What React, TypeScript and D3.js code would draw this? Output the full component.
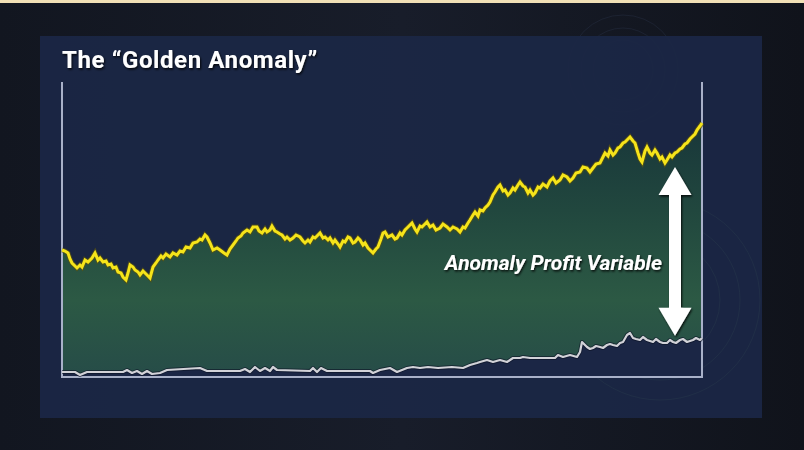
import React from "react";
import * as d3 from "d3";

// Yellow series ("Golden Anomaly" equity) — t index, value
const yellowT = [0,3,6,8,10,13,15,18,20,23,26,30,33,36,38,41,44,46,49,51,54,56,59,61,64,66,68,71,73,76,78,81,83,86,88,91,94,96,99,101,104,108,111,115,118,121,124,128,131,135,138,140,143,145,148,151,155,158,162,165,168,171,174,176,179,181,185,188,191,195,197,200,203,205,208,210,213,215,218,220,223,225,228,231,234,238,241,243,246,248,251,253,256,258,261,263,266,268,271,273,276,278,281,283,286,288,291,293,296,298,301,303,306,308,311,314,316,319,321,323,326,330,333,335,338,340,343,345,348,350,353,355,358,360,363,365,368,371,374,378,381,385,388,391,395,398,401,403,406,408,411,413,416,418,421,423,426,428,431,433,436,438,441,443,446,448,451,453,456,458,461,463,466,468,471,473,476,478,481,485,488,491,494,498,501,505,508,511,514,518,521,525,528,531,534,538,541,543,546,548,551,553,556,558,561,563,566,568,571,573,576,578,580,583,585,588,590,593,595,598,600,603,605,608,610,613,615,618,620,623,625,628,630,633,635,638,640];
const yellowV = [127,126,124,118,114,111,109,112,110,117,115,119,124,117,119,115,116,112,113,109,110,105,104,100,97,104,112,110,107,105,102,106,104,101,99,110,114,117,121,119,123,120,124,122,126,125,130,129,134,135,138,137,142,140,134,127,129,127,124,122,128,132,136,139,141,144,147,145,150,150,146,144,148,145,147,151,146,145,143,142,138,140,137,139,142,140,136,134,137,135,140,139,142,144,139,140,137,139,134,137,133,130,136,135,140,139,134,135,139,137,132,134,129,127,124,128,130,138,144,145,140,142,138,139,144,142,147,149,152,154,148,145,151,150,153,155,150,152,147,149,153,150,147,150,148,145,150,149,154,157,162,165,161,167,166,169,172,175,182,185,190,192,186,187,182,184,189,187,192,195,191,190,184,187,182,184,190,189,193,190,196,199,194,197,202,200,196,199,204,205,210,209,205,209,213,214,220,224,221,227,222,224,229,230,234,235,238,240,236,234,224,218,215,226,230,224,222,227,224,218,220,214,217,222,220,224,225,228,229,233,234,238,240,243,247,251,254];

// Gray series (benchmark)
const grayT = [0,13,18,25,61,65,70,75,80,85,90,98,105,138,145,178,183,188,193,198,203,208,211,215,248,251,255,259,265,308,311,318,328,335,345,351,358,366,376,390,401,408,415,418,425,431,438,445,451,458,461,468,475,485,493,496,501,508,515,518,520,525,528,531,534,538,541,545,548,551,555,558,561,565,568,571,574,578,581,585,588,591,594,598,601,605,608,611,614,618,621,625,628,631,634,638,640];
const grayV = [5,5,2,5,5,7,4,6,3,6,3,4,7,9,6,6,8,5,10,6,9,6,10,7,6,9,5,9,6,6,4,7,9,5,9,10,9,10,9,10,9,12,14,15,17,15,17,15,19,19,20,19,19,19,19,22,20,22,20,25,35,30,28,29,31,30,29,32,33,32,31,34,35,42,44,39,38,37,40,37,36,35,38,35,34,34,37,35,34,37,38,35,36,37,39,37,39];

const TITLE = "The \u201CGolden Anomaly\u201D";
const ANNOTATION = "Anomaly Profit Variable";
const ARROW_T = 613;

const W = 804;
const H = 450;
const plot = { left: 62, right: 702, top: 82, bottom: 377 };

export default function App() {
  const x = d3.scaleLinear().domain([0, 640]).range([plot.left, plot.right]);
  const y = d3.scaleLinear().domain([0, 295]).range([plot.bottom, plot.top]);

  const yellow = yellowT.map((t, i) => [t, yellowV[i]] as [number, number]);
  const gray = grayT.map((t, i) => [t, grayV[i]] as [number, number]);

  const line = d3.line<[number, number]>().x(d => x(d[0])).y(d => y(d[1]));
  const area = d3
    .area<[number, number]>()
    .x(d => x(d[0]))
    .y0(plot.bottom)
    .y1(d => y(d[1]));

  // arrow from scales
  const ax = x(ARROW_T);
  const yTopVal = d3.scaleLinear().domain(yellowT).range(yellowV)(ARROW_T);
  const yBotVal = d3.scaleLinear().domain(grayT).range(grayV)(ARROW_T);
  const aTop = y(yTopVal) + 14;
  const aBot = y(yBotVal) - 7;
  const hw = 16.5, hh = 28, sw = 6;
  const arrowPath = [
    [ax, aTop], [ax + hw, aTop + hh], [ax + sw, aTop + hh], [ax + sw, aBot - hh],
    [ax + hw, aBot - hh], [ax, aBot], [ax - hw, aBot - hh], [ax - sw, aBot - hh],
    [ax - sw, aTop + hh], [ax - hw, aTop + hh],
  ].map(p => p.join(",")).join(" ");

  return (
    <svg width={W} height={H} style={{ position: "fixed", left: 0, top: 0 }}>
      <defs>
        <linearGradient id="bg" x1="0" y1="0" x2="1" y2="0">
          <stop offset="0" stopColor="#121620" />
          <stop offset="0.5" stopColor="#181d2a" />
          <stop offset="1" stopColor="#10131b" />
        </linearGradient>
        <linearGradient id="fillG" gradientUnits="userSpaceOnUse" x1="0" y1="120" x2="0" y2="377">
          <stop offset="0" stopColor="#18363a" />
          <stop offset="0.35" stopColor="#21473e" />
          <stop offset="0.7" stopColor="#2c5944" />
          <stop offset="1" stopColor="#264c48" />
        </linearGradient>
        <filter id="ts" x="-10%" y="-30%" width="120%" height="160%">
          <feDropShadow dx="1" dy="1.5" stdDeviation="1" floodColor="#000" floodOpacity="0.85" />
        </filter>
      </defs>

      <rect x={0} y={0} width={W} height={H} fill="url(#bg)" />
      <rect x={0} y={0} width={W} height={3} fill="#f1e0b6" />

      {/* faint decorative rings */}
      <g fill="none" stroke="#3a4868" strokeOpacity={0.22}>
        <circle cx={623} cy={70} r={30} />
        <circle cx={623} cy={70} r={42} />
        <circle cx={623} cy={70} r={55} />
      </g>

      {/* panel */}
      <rect x={40} y={36} width={722} height={382} fill="#1b2645" fillOpacity={0.96} />

      <g fill="none" stroke="#3c5a5a" strokeOpacity={0.18}>
        <circle cx={660} cy={300} r={60} />
        <circle cx={660} cy={300} r={80} />
        <circle cx={660} cy={300} r={100} />
      </g>

      {/* fill between lines */}
      <path d={area(yellow) || ""} fill="url(#fillG)" />
      <path d={area(gray) || ""} fill="#1b2645" />

      {/* frame */}
      <path
        d={`M${plot.left},${plot.top}V${plot.bottom}H${plot.right}V${plot.top}`}
        fill="none"
        stroke="#a9b1c9"
        strokeWidth={2}
      />

      {/* gray line */}
      <path d={line(gray) || ""} fill="none" stroke="#0e1426" strokeOpacity={0.6} strokeWidth={4} strokeLinejoin="round" />
      <path d={line(gray) || ""} fill="none" stroke="#d2d2d8" strokeWidth={2.2} strokeLinejoin="round" />

      {/* yellow line */}
      <path d={line(yellow) || ""} fill="none" stroke="#5a5410" strokeOpacity={0.7} strokeWidth={5} strokeLinejoin="miter" />
      <path d={line(yellow) || ""} fill="none" stroke="#f6e41a" strokeWidth={3} strokeLinejoin="miter" />

      {/* arrow */}
      <polygon points={arrowPath} fill="#ffffff" filter="url(#ts)" />

      <text
        x={662}
        y={270}
        textAnchor="end"
        fontFamily="Roboto, 'Open Sans', sans-serif"
        fontWeight={700}
        fontStyle="italic"
        fontSize={21}
        fill="#ffffff"
        filter="url(#ts)"
      >
        {ANNOTATION}
      </text>

      <text
        x={62}
        y={68}
        fontFamily="Roboto, 'Open Sans', sans-serif"
        fontWeight={700}
        fontSize={24}
        letterSpacing={0.6}
        fill="#ffffff"
        filter="url(#ts)"
      >
        {TITLE}
      </text>
    </svg>
  );
}
